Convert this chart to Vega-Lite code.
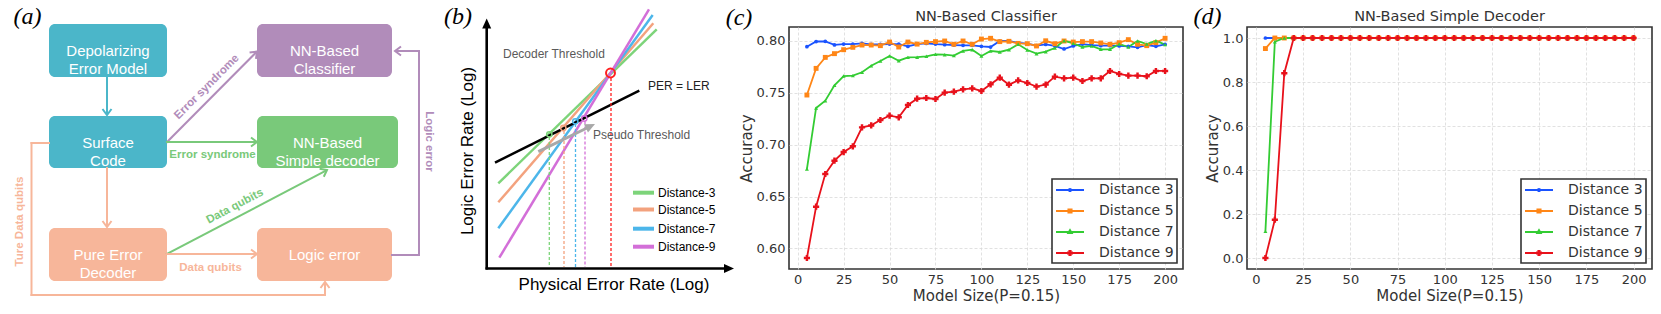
{
  "$schema": "https://vega.github.io/schema/vega-lite/v6.json",
  "background": "white",
  "padding": 0,
  "bounds": "flush",
  "spacing": 64,
  "config": {
    "view": {"stroke": "#333333", "strokeWidth": 1.6},
    "axis": {"domain": false, "ticks": false, "tickSize": 0, "grid": true, "gridColor": "#d9d9d9", "gridDash": [3, 2], "gridWidth": 0.8,
      "labelFont": "DejaVu Sans", "labelFontSize": 13, "labelColor": "#333333", "labelPadding": 4,
      "titleFont": "DejaVu Sans", "titleFontSize": 15, "titleFontWeight": "normal", "titleColor": "#333333", "titlePadding": 2},
    "title": {"font": "DejaVu Sans", "fontSize": 14.5, "fontWeight": "normal", "color": "#333333", "offset": 3},
    "legend": {"title": null, "orient": "bottom-right", "offset": 6, "padding": 3, "rowPadding": 6,
      "labelFont": "DejaVu Sans", "labelFontSize": 14, "labelColor": "#333333",
      "symbolType": "M-2,0H2", "symbolSize": 196, "symbolStrokeWidth": 2, "symbolOffset": 7, "labelOffset": 21,
      "strokeColor": "#333333", "fillColor": "white", "cornerRadius": 0}
  },
  "resolve": {"scale": {"color": "independent"}, "legend": {"color": "independent"}},
  "hconcat": [
    {
      "width": 725,
      "height": 242,
      "view": {"stroke": null},
      "encoding": {
        "x": {"field": "x", "type": "quantitative", "scale": {"domain": [0, 725], "nice": false, "zero": false}, "axis": null},
        "y": {"field": "y", "type": "quantitative", "scale": {"domain": [27, 269], "nice": false, "zero": false, "reverse": true}, "axis": null},
        "color": {"field": "g", "type": "nominal", "legend": null,
          "scale": {"domain": ["teal", "purple", "green", "salmon", "ink", "gray", "d3", "d5", "d7", "d9", "red", "note", "dark"],
                    "range": ["#4bb6c9", "#b18cba", "#79c97a", "#f7b69a", "#000000", "#a8a8a8", "#7dd47a", "#f3a27e", "#4cb6ea", "#d36fd8", "#ff1f1f", "#5a5a5a", "#222222"]}}
      },
      "layer": [
        {"data": {"values": [{"x": 0, "x2": 725, "y": 0, "y2": 314}]}, "mark": {"type": "rect"},
         "encoding": {"x2": {"field": "x2"}, "y2": {"field": "y2"}, "color": {"value": "white"}}},
        {"data": {"values": [
          {"x": 49, "x2": 167, "y": 24, "y2": 77, "g": "teal"},
          {"x": 257, "x2": 392, "y": 24, "y2": 77, "g": "purple"},
          {"x": 49, "x2": 167, "y": 116, "y2": 168, "g": "teal"},
          {"x": 257, "x2": 398, "y": 116, "y2": 168, "g": "green"},
          {"x": 49, "x2": 167, "y": 228, "y2": 281, "g": "salmon"},
          {"x": 257, "x2": 392, "y": 228, "y2": 281, "g": "salmon"}]},
         "mark": {"type": "rect", "cornerRadius": 6},
         "encoding": {"x2": {"field": "x2"}, "y2": {"field": "y2"}}},
        {"data": {"values": [
          {"x": 107, "y": 77, "x2": 107, "y2": 114, "g": "teal"},
          {"x": 167, "y": 142, "x2": 256, "y2": 52.5, "g": "purple"},
          {"x": 167, "y": 142, "x2": 256, "y2": 142, "g": "green"},
          {"x": 107, "y": 168, "x2": 107, "y2": 226, "g": "salmon"},
          {"x": 49, "y": 143, "x2": 31.5, "y2": 143, "g": "salmon"},
          {"x": 31.5, "y": 143, "x2": 31.5, "y2": 295, "g": "salmon"},
          {"x": 31.5, "y": 295, "x2": 325, "y2": 295, "g": "salmon"},
          {"x": 325, "y": 295, "x2": 325, "y2": 283, "g": "salmon"},
          {"x": 167, "y": 254, "x2": 326, "y2": 170.5, "g": "green"},
          {"x": 167, "y": 254, "x2": 256, "y2": 254, "g": "salmon"},
          {"x": 392, "y": 255, "x2": 419, "y2": 255, "g": "purple"},
          {"x": 419, "y": 255, "x2": 419, "y2": 51, "g": "purple"},
          {"x": 419, "y": 51, "x2": 396, "y2": 51, "g": "purple"}]},
         "mark": {"type": "rule", "strokeWidth": 2, "strokeCap": "square"},
         "encoding": {"x2": {"field": "x2"}, "y2": {"field": "y2"}}},
        {"data": {"values": [
          {"x": 107, "y": 115, "ang": 90, "g": "teal"},
          {"x": 257, "y": 51.5, "ang": -45, "g": "purple"},
          {"x": 257, "y": 142, "ang": 0, "g": "green"},
          {"x": 107, "y": 227, "ang": 90, "g": "salmon"},
          {"x": 325, "y": 282, "ang": -90, "g": "salmon"},
          {"x": 327, "y": 170, "ang": -27.7, "g": "green"},
          {"x": 257, "y": 254, "ang": 0, "g": "salmon"},
          {"x": 395, "y": 51, "ang": 180, "g": "purple"}]},
         "mark": {"type": "point", "shape": "M-6,-4.5L0,0L-6,4.5", "size": 4, "filled": false, "strokeWidth": 2, "opacity": 1},
         "encoding": {"angle": {"field": "ang", "type": "quantitative", "scale": null}}},
        {"data": {"values": [
          {"x": 108, "y": 51.3, "t": "Depolarizing\nError Model"},
          {"x": 324.5, "y": 51.3, "t": "NN-Based\nClassifier"},
          {"x": 108, "y": 142.5, "t": "Surface\nCode"},
          {"x": 327.5, "y": 142.5, "t": "NN-Based\nSimple decoder"},
          {"x": 108, "y": 255, "t": "Pure Error\nDecoder"},
          {"x": 324.5, "y": 255.3, "t": "Logic error"}]},
         "mark": {"type": "text", "font": "Liberation Sans", "fontSize": 15, "lineBreak": "\n", "lineHeight": 18, "align": "center", "baseline": "middle"},
         "encoding": {"text": {"field": "t"}, "color": {"value": "white"}}},
        {"data": {"values": [
          {"x": 207, "y": 87, "t": "Error syndrome", "g": "purple", "ang": -45},
          {"x": 212.5, "y": 154.5, "t": "Error syndrome", "g": "green", "ang": 0},
          {"x": 235, "y": 206.5, "t": "Data qubits", "g": "green", "ang": -28},
          {"x": 210.5, "y": 267.5, "t": "Data qubits", "g": "salmon", "ang": 0},
          {"x": 19.5, "y": 221.5, "t": "Ture Data qubits", "g": "salmon", "ang": -90},
          {"x": 429, "y": 141.5, "t": "Logic error", "g": "purple", "ang": 90}]},
         "mark": {"type": "text", "font": "Liberation Sans", "fontSize": 11.5, "fontWeight": "bold", "align": "center", "baseline": "middle"},
         "encoding": {"text": {"field": "t"}, "angle": {"field": "ang", "type": "quantitative", "scale": null}}},
        {"data": {"values": [
          {"x": 27.5, "y": 17, "t": "(a)"},
          {"x": 458, "y": 17, "t": "(b)"},
          {"x": 739, "y": 18, "t": "(c)"},
          {"x": 1207.5, "y": 17, "t": "(d)"}]},
         "mark": {"type": "text", "font": "Liberation Serif", "fontStyle": "italic", "fontSize": 24, "align": "center", "baseline": "middle"},
         "encoding": {"text": {"field": "t"}, "color": {"value": "black"}}},
        {"data": {"values": [
          {"x": 498.3, "y": 183.3, "x2": 656.7, "y2": 29.3, "g": "d3"},
          {"x": 498.3, "y": 202.3, "x2": 653.3, "y2": 23.3, "g": "d5"},
          {"x": 498.3, "y": 228.3, "x2": 652.7, "y2": 15, "g": "d7"},
          {"x": 499.3, "y": 257.7, "x2": 649, "y2": 9.3, "g": "d9"},
          {"x": 495, "y": 162.7, "x2": 639.3, "y2": 90.7, "g": "ink"}]},
         "mark": {"type": "rule", "strokeWidth": 2.5},
         "encoding": {"x2": {"field": "x2"}, "y2": {"field": "y2"}}},
        {"data": {"values": [
          {"x": 549.3, "y": 137, "x2": 549.3, "y2": 267, "g": "d3"},
          {"x": 564, "y": 131, "x2": 564, "y2": 267, "g": "d5"},
          {"x": 575.5, "y": 124, "x2": 575.5, "y2": 267, "g": "d7"},
          {"x": 585, "y": 121.5, "x2": 585, "y2": 267, "g": "d9"},
          {"x": 611, "y": 78, "x2": 611, "y2": 267, "g": "red"}]},
         "mark": {"type": "rule", "strokeWidth": 1.3, "strokeDash": [3, 2]},
         "encoding": {"x2": {"field": "x2"}, "y2": {"field": "y2"}}},
        {"data": {"values": [
          {"x": 486.7, "y": 269.5, "x2": 486.7, "y2": 27, "g": "ink"},
          {"x": 485.5, "y": 268.5, "x2": 725, "y2": 268.5, "g": "ink"}]},
         "mark": {"type": "rule", "strokeWidth": 2.6},
         "encoding": {"x2": {"field": "x2"}, "y2": {"field": "y2"}}},
        {"data": {"values": [
          {"x": 538.3, "y": 151.7, "x2": 588, "y2": 127.5, "g": "gray"}]},
         "mark": {"type": "rule", "strokeWidth": 3},
         "encoding": {"x2": {"field": "x2"}, "y2": {"field": "y2"}}},
        {"data": {"values": [
          {"x": 486.7, "y": 18.5, "ang": -90, "g": "ink"},
          {"x": 734, "y": 268.5, "ang": 0, "g": "ink"},
          {"x": 595, "y": 124, "ang": -26, "g": "gray"}]},
         "mark": {"type": "point", "shape": "M0,0L-10,-4.5L-10,4.5Z", "size": 4, "filled": true, "opacity": 1},
         "encoding": {"angle": {"field": "ang", "type": "quantitative", "scale": null}}},
        {"data": {"values": [
          {"x": 549.3, "y": 134.3, "g": "d3"},
          {"x": 563.3, "y": 128, "g": "d5"},
          {"x": 575.3, "y": 121.3, "g": "d7"},
          {"x": 584.3, "y": 118.5, "g": "d9"}]},
         "mark": {"type": "point", "shape": "circle", "size": 28, "filled": false, "strokeWidth": 1.5, "opacity": 1}},
        {"data": {"values": [{"x": 610.5, "y": 73, "g": "red"}]},
         "mark": {"type": "point", "shape": "circle", "size": 80, "filled": false, "strokeWidth": 2, "opacity": 1}},
        {"data": {"values": [
          {"x": 633, "y": 192.7, "x2": 654, "y2": 192.7, "g": "d3"},
          {"x": 633, "y": 209.5, "x2": 654, "y2": 209.5, "g": "d5"},
          {"x": 633, "y": 228.7, "x2": 654, "y2": 228.7, "g": "d7"},
          {"x": 633, "y": 246.7, "x2": 654, "y2": 246.7, "g": "d9"}]},
         "mark": {"type": "rule", "strokeWidth": 4},
         "encoding": {"x2": {"field": "x2"}, "y2": {"field": "y2"}}},
        {"data": {"values": [
          {"x": 503, "y": 54, "t": "Decoder Threshold", "g": "note"},
          {"x": 593, "y": 135, "t": "Pseudo Threshold", "g": "note"},
          {"x": 648, "y": 86, "t": "PER = LER", "g": "dark"}]},
         "mark": {"type": "text", "font": "Liberation Sans", "fontSize": 12, "align": "left", "baseline": "middle"},
         "encoding": {"text": {"field": "t"}}},
        {"data": {"values": [
          {"x": 658, "y": 193, "t": "Distance-3"},
          {"x": 658, "y": 210, "t": "Distance-5"},
          {"x": 658, "y": 229, "t": "Distance-7"},
          {"x": 658, "y": 247, "t": "Distance-9"}]},
         "mark": {"type": "text", "font": "Liberation Sans", "fontSize": 12, "align": "left", "baseline": "middle"},
         "encoding": {"text": {"field": "t"}, "color": {"value": "black"}}},
        {"data": {"values": [
          {"x": 467.5, "y": 151, "t": "Logic Error Rate (Log)", "ang": -90},
          {"x": 614, "y": 285, "t": "Physical Error Rate (Log)", "ang": 0}]},
         "mark": {"type": "text", "font": "Liberation Sans", "fontSize": 17, "align": "center", "baseline": "middle"},
         "encoding": {"text": {"field": "t"}, "color": {"value": "black"}, "angle": {"field": "ang", "type": "quantitative", "scale": null}}}
      ]
    },
    {
      "width": 394,
      "height": 242,
      "title": {"text": "NN-Based Classifier"},
      "data": {"values": [
        {"s": 5, "Distance 3": 0.7945, "Distance 5": 0.7479, "Distance 7": 0.6765, "Distance 9": 0.5907},
        {"s": 10, "Distance 3": 0.7995, "Distance 5": 0.7736, "Distance 7": 0.7354, "Distance 9": 0.6402},
        {"s": 15, "Distance 3": 0.7997, "Distance 5": 0.7842, "Distance 7": 0.7424, "Distance 9": 0.6717},
        {"s": 20, "Distance 3": 0.7962, "Distance 5": 0.7878, "Distance 7": 0.7572, "Distance 9": 0.6846},
        {"s": 25, "Distance 3": 0.797, "Distance 5": 0.7916, "Distance 7": 0.7662, "Distance 9": 0.6929},
        {"s": 30, "Distance 3": 0.797, "Distance 5": 0.7939, "Distance 7": 0.7666, "Distance 9": 0.6984},
        {"s": 35, "Distance 3": 0.7977, "Distance 5": 0.7961, "Distance 7": 0.7698, "Distance 9": 0.7167},
        {"s": 40, "Distance 3": 0.7968, "Distance 5": 0.7961, "Distance 7": 0.7762, "Distance 9": 0.7186},
        {"s": 45, "Distance 3": 0.7968, "Distance 5": 0.7955, "Distance 7": 0.7807, "Distance 9": 0.7238},
        {"s": 50, "Distance 3": 0.797, "Distance 5": 0.799, "Distance 7": 0.7855, "Distance 9": 0.728},
        {"s": 55, "Distance 3": 0.797, "Distance 5": 0.7942, "Distance 7": 0.781, "Distance 9": 0.7264},
        {"s": 60, "Distance 3": 0.7948, "Distance 5": 0.799, "Distance 7": 0.7842, "Distance 9": 0.7383},
        {"s": 65, "Distance 3": 0.797, "Distance 5": 0.797, "Distance 7": 0.7844, "Distance 9": 0.7444},
        {"s": 70, "Distance 3": 0.7977, "Distance 5": 0.7987, "Distance 7": 0.7852, "Distance 9": 0.745},
        {"s": 75, "Distance 3": 0.797, "Distance 5": 0.7994, "Distance 7": 0.7871, "Distance 9": 0.7441},
        {"s": 80, "Distance 3": 0.7965, "Distance 5": 0.8, "Distance 7": 0.7868, "Distance 9": 0.7502},
        {"s": 85, "Distance 3": 0.7961, "Distance 5": 0.7968, "Distance 7": 0.7859, "Distance 9": 0.7511},
        {"s": 90, "Distance 3": 0.7958, "Distance 5": 0.8, "Distance 7": 0.7904, "Distance 9": 0.7534},
        {"s": 95, "Distance 3": 0.7958, "Distance 5": 0.7968, "Distance 7": 0.7916, "Distance 9": 0.7543},
        {"s": 100, "Distance 3": 0.7949, "Distance 5": 0.8019, "Distance 7": 0.7855, "Distance 9": 0.7518},
        {"s": 105, "Distance 3": 0.7942, "Distance 5": 0.8026, "Distance 7": 0.7904, "Distance 9": 0.7582},
        {"s": 110, "Distance 3": 0.8, "Distance 5": 0.7994, "Distance 7": 0.7894, "Distance 9": 0.7646},
        {"s": 115, "Distance 3": 0.8, "Distance 5": 0.7997, "Distance 7": 0.7916, "Distance 9": 0.7579},
        {"s": 120, "Distance 3": 0.7981, "Distance 5": 0.7977, "Distance 7": 0.7968, "Distance 9": 0.762},
        {"s": 125, "Distance 3": 0.7974, "Distance 5": 0.7974, "Distance 7": 0.7913, "Distance 9": 0.7595},
        {"s": 130, "Distance 3": 0.7955, "Distance 5": 0.7952, "Distance 7": 0.7878, "Distance 9": 0.756},
        {"s": 135, "Distance 3": 0.7967, "Distance 5": 0.8002, "Distance 7": 0.7897, "Distance 9": 0.758},
        {"s": 140, "Distance 3": 0.7952, "Distance 5": 0.7974, "Distance 7": 0.7932, "Distance 9": 0.7656},
        {"s": 145, "Distance 3": 0.7923, "Distance 5": 0.8, "Distance 7": 0.8003, "Distance 9": 0.764},
        {"s": 150, "Distance 3": 0.7952, "Distance 5": 0.799, "Distance 7": 0.7977, "Distance 9": 0.7646},
        {"s": 155, "Distance 3": 0.797, "Distance 5": 0.7994, "Distance 7": 0.7942, "Distance 9": 0.7614},
        {"s": 160, "Distance 3": 0.7961, "Distance 5": 0.7994, "Distance 7": 0.7952, "Distance 9": 0.764},
        {"s": 165, "Distance 3": 0.7955, "Distance 5": 0.7981, "Distance 7": 0.792, "Distance 9": 0.764},
        {"s": 170, "Distance 3": 0.7955, "Distance 5": 0.7968, "Distance 7": 0.792, "Distance 9": 0.7711},
        {"s": 175, "Distance 3": 0.7952, "Distance 5": 0.7984, "Distance 7": 0.7971, "Distance 9": 0.7682},
        {"s": 180, "Distance 3": 0.7949, "Distance 5": 0.8013, "Distance 7": 0.7942, "Distance 9": 0.7666},
        {"s": 185, "Distance 3": 0.7939, "Distance 5": 0.7968, "Distance 7": 0.8, "Distance 9": 0.7666},
        {"s": 190, "Distance 3": 0.7961, "Distance 5": 0.7955, "Distance 7": 0.7971, "Distance 9": 0.766},
        {"s": 195, "Distance 3": 0.7949, "Distance 5": 0.7984, "Distance 7": 0.8003, "Distance 9": 0.7711},
        {"s": 200, "Distance 3": 0.7968, "Distance 5": 0.8026, "Distance 7": 0.7965, "Distance 9": 0.7711}
      ]},
      "transform": [{"fold": ["Distance 3", "Distance 5", "Distance 7", "Distance 9"], "as": ["dist", "acc"]}],
      "encoding": {
        "x": {"field": "s", "type": "quantitative", "scale": {"domain": [-4.75, 209.75], "nice": false, "zero": false},
              "axis": {"title": "Model Size(P=0.15)", "values": [0, 25, 50, 75, 100, 125, 150, 175, 200]}},
        "y": {"field": "acc", "type": "quantitative", "scale": {"domain": [0.5801, 0.8135], "nice": false, "zero": false},
              "axis": {"title": "Accuracy", "values": [0.6, 0.65, 0.7, 0.75, 0.8], "format": ".2f"}},
        "color": {"field": "dist", "type": "nominal",
          "scale": {"domain": ["Distance 3", "Distance 5", "Distance 7", "Distance 9"], "range": ["#1a53ff", "#ff8616", "#33cc33", "#e8111b"]},
          "legend": {
            "symbolType": "M-2,0H2",
            "encode": {
              "legend": {"update": {"strokeWidth": {"value": 1.6}}},
              "symbols": {"update": {
                "shape": {"signal": "datum.value === 'Distance 3' ? 'M-2,0H2M-0.16,0A0.16,0.16 0 1,0 0.16,0A0.16,0.16 0 1,0 -0.16,0Z' : datum.value === 'Distance 5' ? 'M-2,0H2M-0.22,-0.22H0.22V0.22H-0.22Z' : datum.value === 'Distance 7' ? 'M-2,0H2M0,-0.26L0.24,0.16H-0.24Z' : 'M-2,0H2M-0.08,-0.28H0.08V-0.08H0.28V0.08H0.08V0.28H-0.08V0.08H-0.28V-0.08H-0.08Z'"},
                "size": {"value": 196},
                "fill": {"signal": "datum.value === 'Distance 3' ? '#1a53ff' : datum.value === 'Distance 5' ? '#ff8616' : datum.value === 'Distance 7' ? '#33cc33' : '#e8111b'"},
                "stroke": {"signal": "datum.value === 'Distance 3' ? '#1a53ff' : datum.value === 'Distance 5' ? '#ff8616' : datum.value === 'Distance 7' ? '#33cc33' : '#e8111b'"},
                "strokeWidth": {"value": 2},
                "opacity": {"value": 1}}}}}}
      },
      "layer": [
        {"mark": {"type": "line", "strokeWidth": 1.8}},
        {"transform": [{"filter": "datum.dist === 'Distance 3'"}], "mark": {"type": "point", "filled": true, "opacity": 1, "shape": "circle", "size": 14}},
        {"transform": [{"filter": "datum.dist === 'Distance 5'"}], "mark": {"type": "point", "filled": true, "opacity": 1, "shape": "square", "size": 24}},
        {"transform": [{"filter": "datum.dist === 'Distance 7'"}], "mark": {"type": "point", "filled": true, "opacity": 1, "shape": "triangle-up", "size": 16}},
        {"transform": [{"filter": "datum.dist === 'Distance 9'"}], "mark": {"type": "point", "filled": true, "opacity": 1, "shape": "cross", "size": 38}}
      ]
    },
    {
      "width": 405,
      "height": 242,
      "title": {"text": "NN-Based Simple Decoder"},
      "data": {"values": [
        {"s": 5, "Distance 3": 1, "Distance 5": 0.952, "Distance 7": 0.121, "Distance 9": 0},
        {"s": 10, "Distance 3": 1, "Distance 5": 1, "Distance 7": 0.983, "Distance 9": 0.174},
        {"s": 15, "Distance 3": 1, "Distance 5": 1, "Distance 7": 1, "Distance 9": 0.84},
        {"s": 20, "Distance 3": 1, "Distance 5": 1, "Distance 7": 1, "Distance 9": 1},
        {"s": 25, "Distance 3": 1, "Distance 5": 1, "Distance 7": 1, "Distance 9": 1},
        {"s": 30, "Distance 3": 1, "Distance 5": 1, "Distance 7": 1, "Distance 9": 1},
        {"s": 35, "Distance 3": 1, "Distance 5": 1, "Distance 7": 1, "Distance 9": 1},
        {"s": 40, "Distance 3": 1, "Distance 5": 1, "Distance 7": 1, "Distance 9": 1},
        {"s": 45, "Distance 3": 1, "Distance 5": 1, "Distance 7": 1, "Distance 9": 1},
        {"s": 50, "Distance 3": 1, "Distance 5": 1, "Distance 7": 1, "Distance 9": 1},
        {"s": 55, "Distance 3": 1, "Distance 5": 1, "Distance 7": 1, "Distance 9": 1},
        {"s": 60, "Distance 3": 1, "Distance 5": 1, "Distance 7": 1, "Distance 9": 1},
        {"s": 65, "Distance 3": 1, "Distance 5": 1, "Distance 7": 1, "Distance 9": 1},
        {"s": 70, "Distance 3": 1, "Distance 5": 1, "Distance 7": 1, "Distance 9": 1},
        {"s": 75, "Distance 3": 1, "Distance 5": 1, "Distance 7": 1, "Distance 9": 1},
        {"s": 80, "Distance 3": 1, "Distance 5": 1, "Distance 7": 1, "Distance 9": 1},
        {"s": 85, "Distance 3": 1, "Distance 5": 1, "Distance 7": 1, "Distance 9": 1},
        {"s": 90, "Distance 3": 1, "Distance 5": 1, "Distance 7": 1, "Distance 9": 1},
        {"s": 95, "Distance 3": 1, "Distance 5": 1, "Distance 7": 1, "Distance 9": 1},
        {"s": 100, "Distance 3": 1, "Distance 5": 1, "Distance 7": 1, "Distance 9": 1},
        {"s": 105, "Distance 3": 1, "Distance 5": 1, "Distance 7": 1, "Distance 9": 1},
        {"s": 110, "Distance 3": 1, "Distance 5": 1, "Distance 7": 1, "Distance 9": 1},
        {"s": 115, "Distance 3": 1, "Distance 5": 1, "Distance 7": 1, "Distance 9": 1},
        {"s": 120, "Distance 3": 1, "Distance 5": 1, "Distance 7": 1, "Distance 9": 1},
        {"s": 125, "Distance 3": 1, "Distance 5": 1, "Distance 7": 1, "Distance 9": 1},
        {"s": 130, "Distance 3": 1, "Distance 5": 1, "Distance 7": 1, "Distance 9": 1},
        {"s": 135, "Distance 3": 1, "Distance 5": 1, "Distance 7": 1, "Distance 9": 1},
        {"s": 140, "Distance 3": 1, "Distance 5": 1, "Distance 7": 1, "Distance 9": 1},
        {"s": 145, "Distance 3": 1, "Distance 5": 1, "Distance 7": 1, "Distance 9": 1},
        {"s": 150, "Distance 3": 1, "Distance 5": 1, "Distance 7": 1, "Distance 9": 1},
        {"s": 155, "Distance 3": 1, "Distance 5": 1, "Distance 7": 1, "Distance 9": 1},
        {"s": 160, "Distance 3": 1, "Distance 5": 1, "Distance 7": 1, "Distance 9": 1},
        {"s": 165, "Distance 3": 1, "Distance 5": 1, "Distance 7": 1, "Distance 9": 1},
        {"s": 170, "Distance 3": 1, "Distance 5": 1, "Distance 7": 1, "Distance 9": 1},
        {"s": 175, "Distance 3": 1, "Distance 5": 1, "Distance 7": 1, "Distance 9": 1},
        {"s": 180, "Distance 3": 1, "Distance 5": 1, "Distance 7": 1, "Distance 9": 1},
        {"s": 185, "Distance 3": 1, "Distance 5": 1, "Distance 7": 1, "Distance 9": 1},
        {"s": 190, "Distance 3": 1, "Distance 5": 1, "Distance 7": 1, "Distance 9": 1},
        {"s": 195, "Distance 3": 1, "Distance 5": 1, "Distance 7": 1, "Distance 9": 1},
        {"s": 200, "Distance 3": 1, "Distance 5": 1, "Distance 7": 1, "Distance 9": 1}
      ]},
      "transform": [{"fold": ["Distance 3", "Distance 5", "Distance 7", "Distance 9"], "as": ["dist", "acc"]}],
      "encoding": {
        "x": {"field": "s", "type": "quantitative", "scale": {"domain": [-4.75, 209.75], "nice": false, "zero": false},
              "axis": {"title": "Model Size(P=0.15)", "values": [0, 25, 50, 75, 100, 125, 150, 175, 200]}},
        "y": {"field": "acc", "type": "quantitative", "scale": {"domain": [-0.05, 1.05], "nice": false, "zero": false},
              "axis": {"title": "Accuracy", "values": [0, 0.2, 0.4, 0.6, 0.8, 1.0], "format": ".1f"}},
        "color": {"field": "dist", "type": "nominal",
          "scale": {"domain": ["Distance 3", "Distance 5", "Distance 7", "Distance 9"], "range": ["#1a53ff", "#ff8616", "#33cc33", "#e8111b"]},
          "legend": {
            "symbolType": "M-2,0H2",
            "encode": {
              "legend": {"update": {"strokeWidth": {"value": 1.6}}},
              "symbols": {"update": {
                "shape": {"signal": "datum.value === 'Distance 3' ? 'M-2,0H2M-0.16,0A0.16,0.16 0 1,0 0.16,0A0.16,0.16 0 1,0 -0.16,0Z' : datum.value === 'Distance 5' ? 'M-2,0H2M-0.22,-0.22H0.22V0.22H-0.22Z' : datum.value === 'Distance 7' ? 'M-2,0H2M0,-0.26L0.24,0.16H-0.24Z' : 'M-2,0H2M-0.08,-0.28H0.08V-0.08H0.28V0.08H0.08V0.28H-0.08V0.08H-0.28V-0.08H-0.08Z'"},
                "size": {"value": 196},
                "fill": {"signal": "datum.value === 'Distance 3' ? '#1a53ff' : datum.value === 'Distance 5' ? '#ff8616' : datum.value === 'Distance 7' ? '#33cc33' : '#e8111b'"},
                "stroke": {"signal": "datum.value === 'Distance 3' ? '#1a53ff' : datum.value === 'Distance 5' ? '#ff8616' : datum.value === 'Distance 7' ? '#33cc33' : '#e8111b'"},
                "strokeWidth": {"value": 2},
                "opacity": {"value": 1}}}}}}
      },
      "layer": [
        {"mark": {"type": "line", "strokeWidth": 1.8}},
        {"transform": [{"filter": "datum.dist === 'Distance 3'"}], "mark": {"type": "point", "filled": true, "opacity": 1, "shape": "circle", "size": 14}},
        {"transform": [{"filter": "datum.dist === 'Distance 5'"}], "mark": {"type": "point", "filled": true, "opacity": 1, "shape": "square", "size": 24}},
        {"transform": [{"filter": "datum.dist === 'Distance 7'"}], "mark": {"type": "point", "filled": true, "opacity": 1, "shape": "triangle-up", "size": 16}},
        {"transform": [{"filter": "datum.dist === 'Distance 9'"}], "mark": {"type": "point", "filled": true, "opacity": 1, "shape": "cross", "size": 38}}
      ]
    }
  ]
}
